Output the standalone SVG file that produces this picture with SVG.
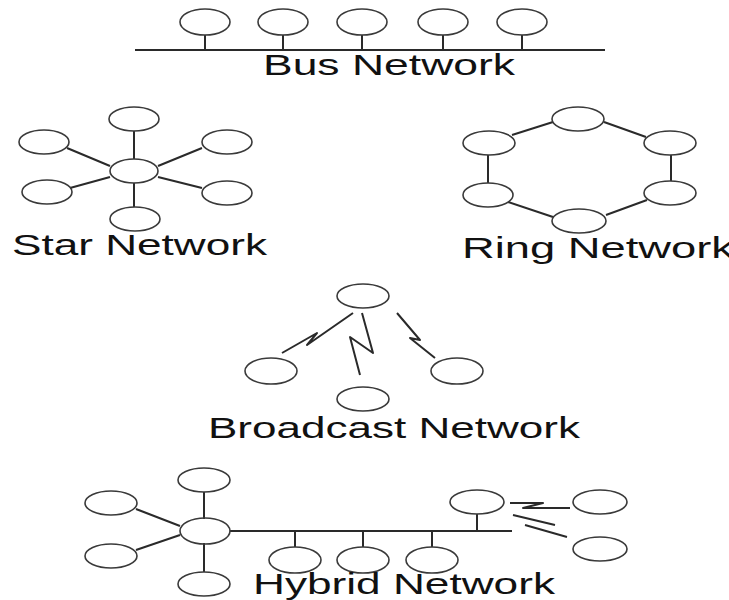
<svg xmlns="http://www.w3.org/2000/svg" width="729" height="600" viewBox="0 0 729 600">
<style>
.n{fill:none;stroke:#3a3a3a;stroke-width:1.6}
.c{fill:none;stroke:#2a2a2a;stroke-width:2;stroke-linejoin:round}
.t{font-family:"Liberation Sans",Arial,sans-serif;font-size:30px;fill:#111}
</style>
<rect width="729" height="600" fill="#fff"/>
<g id="connectors">
<!-- bus -->
<path class="c" d="M135 50H605M205 35V50M283 35V50M362 35V50M443 35V50M522 35V50"/>
<!-- star -->
<path class="c" d="M134 131V159M134 183V207M67 148L110 166M202 148L158 166M70 188L110 177M202 188L158 177"/>
<!-- ring -->
<path class="c" d="M512 135L553 122M604 122L646 137M488 155V183M671 155V181M508 202L553 217M647 200L606 215"/>
<!-- broadcast -->
<path class="c" d="M282 353L317 333L307 345L353 313"/>
<path class="c" d="M362 313L373 353L350 337L360 375"/>
<path class="c" d="M397 313L420 340L410 338L435 358"/>
<!-- hybrid -->
<path class="c" d="M204 492V519M204 543V572M136 509L180 526M136 550L180 535M230 531H512M295 531V547M363 531V547M432 531V547M477 514V531"/>
<path class="c" d="M510 503H543L523 508L570 508"/>
<path class="c" d="M513 515L555 525M525 525L567 537"/>
</g>
<g id="bus">
<ellipse class="n" cx="205" cy="22" rx="25" ry="13"/>
<ellipse class="n" cx="283" cy="22" rx="25" ry="13"/>
<ellipse class="n" cx="362" cy="22" rx="25" ry="13"/>
<ellipse class="n" cx="443" cy="22" rx="25" ry="13"/>
<ellipse class="n" cx="522" cy="22" rx="25" ry="13"/>
<text class="t" x="263" y="75" textLength="252" lengthAdjust="spacingAndGlyphs">Bus Network</text>
</g>
<g id="star">
<ellipse class="n" cx="134" cy="119" rx="25" ry="12"/>
<ellipse class="n" cx="44" cy="142" rx="25" ry="12"/>
<ellipse class="n" cx="227" cy="142" rx="25" ry="12"/>
<ellipse class="n" cx="134" cy="171" rx="24" ry="12"/>
<ellipse class="n" cx="47" cy="192" rx="25" ry="12"/>
<ellipse class="n" cx="227" cy="193" rx="25" ry="12"/>
<ellipse class="n" cx="135" cy="219" rx="25" ry="12"/>
<text class="t" x="12" y="255" textLength="255" lengthAdjust="spacingAndGlyphs">Star Network</text>
</g>
<g id="ring">
<ellipse class="n" cx="578" cy="119" rx="26" ry="12"/>
<ellipse class="n" cx="489" cy="143" rx="26" ry="12"/>
<ellipse class="n" cx="670" cy="143" rx="26" ry="12"/>
<ellipse class="n" cx="488" cy="195" rx="25" ry="12"/>
<ellipse class="n" cx="670" cy="193" rx="26" ry="12"/>
<ellipse class="n" cx="579" cy="221" rx="27" ry="12"/>
<text class="t" x="462" y="258" textLength="272" lengthAdjust="spacingAndGlyphs">Ring Network</text>
</g>
<g id="broadcast">
<ellipse class="n" cx="363" cy="296" rx="26" ry="12"/>
<ellipse class="n" cx="271" cy="371" rx="26" ry="13"/>
<ellipse class="n" cx="363" cy="399" rx="26" ry="12"/>
<ellipse class="n" cx="457" cy="371" rx="26" ry="13"/>
<text class="t" x="208" y="438" textLength="372" lengthAdjust="spacingAndGlyphs">Broadcast Network</text>
</g>
<g id="hybrid">
<ellipse class="n" cx="204" cy="480" rx="26" ry="12"/>
<ellipse class="n" cx="111" cy="503" rx="26" ry="12"/>
<ellipse class="n" cx="205" cy="531" rx="25" ry="13"/>
<ellipse class="n" cx="111" cy="556" rx="26" ry="12"/>
<ellipse class="n" cx="204" cy="584" rx="26" ry="12"/>
<ellipse class="n" cx="295" cy="560" rx="26" ry="13"/>
<ellipse class="n" cx="363" cy="560" rx="26" ry="13"/>
<ellipse class="n" cx="432" cy="560" rx="26" ry="13"/>
<ellipse class="n" cx="477" cy="502" rx="27" ry="12"/>
<ellipse class="n" cx="600" cy="502" rx="27" ry="12"/>
<ellipse class="n" cx="600" cy="549" rx="27" ry="12"/>
<text class="t" x="253" y="594" textLength="302" lengthAdjust="spacingAndGlyphs">Hybrid Network</text>
</g>
</svg>
